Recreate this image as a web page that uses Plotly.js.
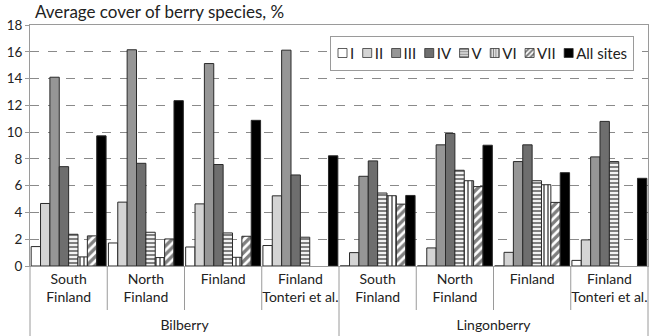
<!DOCTYPE html>
<html><head><meta charset="utf-8">
<script src="https://cdn.plot.ly/plotly-3.0.1.min.js"></script>
<style>html,body{margin:0;padding:0;background:#fff}#chart{width:650px;height:336px}</style>
</head><body><div id="chart"></div>
<script>
// ---- data ----
const species = ['Bilberry','Bilberry','Bilberry','Bilberry','Lingonberry','Lingonberry','Lingonberry','Lingonberry'];
const regions = ['South<br>Finland','North<br>Finland','Finland','Finland<br>Tonteri et al.','South<br>Finland','North<br>Finland','Finland','Finland<br>Tonteri et al.'];
const seriesNames = ['I','II','III','IV','V','VI','VII','All sites'];
const valI    = [1.45, 1.72, 1.42, 1.53, 0,    0,    0,    0.42];
const valII   = [4.67, 4.77, 4.64, 5.24, 1.0,  1.35, 1.02, 1.95];
const valIII  = [14.1, 16.15,15.12,16.12,6.7,  9.05, 7.8,  8.15];
const valIV   = [7.42, 7.67, 7.58, 6.8,  7.85, 9.9,  9.05, 10.8];
const valV    = [2.37, 2.52, 2.47, 2.15, 5.45, 7.15, 6.37, 7.8];
const valVI   = [0.68, 0.63, 0.65, null, 5.25, 6.37, 6.07, null];
const valVII  = [2.25, 2.02, 2.22, null, 4.62, 5.93, 4.75, null];
const valAll  = [9.72, 12.35,10.88,8.23, 5.27, 9.02, 6.97, 6.55];
const seriesValues = [valI, valII, valIII, valIV, valV, valVI, valVII, valAll];
const titleText = 'Average cover of berry species, %';

// ---- styles ----
const styles = [
  {color:'#ffffff'},
  {color:'#d4d4d4'},
  {color:'#969696'},
  {color:'#6e6e6e'},
  {color:'#ffffff', pattern:{shape:'-', fgcolor:'#000', bgcolor:'#fff', size:4, solidity:0.55, fillmode:'overlay'}},
  {color:'#ffffff', pattern:{shape:'|', fgcolor:'#000', bgcolor:'#fff', size:4, solidity:0.5, fillmode:'overlay'}},
  {color:'#ffffff', pattern:{shape:'/', fgcolor:'#000', bgcolor:'#fff', size:6, solidity:0.55, fillmode:'overlay'}},
  {color:'#000000'}
];

const FONT = 'Lato, "Open Sans", sans-serif';
const GRID = '#9a9a9a';
const data = seriesNames.map((name, i) => {
  const m = {color: styles[i].color, line:{color:'#2a2a2a', width:1}};
  if (styles[i].pattern) m.pattern = styles[i].pattern;
  return {type:'bar', name:name, x:[species, regions], y:seriesValues[i], marker:m, hoverinfo:'skip'};
});

// category separators below the axis (inner short, outer full height)
const shapes = [];
for (let i = 0; i <= 8; i++) {
  const outer = (i % 4 === 0);
  shapes.push({type:'line', xref:'paper', yref:'paper', x0:i/8, x1:i/8, y0:0, y1: outer ? -70/241 : -44/241, line:{color:GRID, width:1}});
}

const layout = {
  width:650, height:336,
  margin:{l:30, r:2, t:25, b:70, autoexpand:false},
  paper_bgcolor:'#fff', plot_bgcolor:'#fff',
  font:{family:FONT, size:14, color:'#222'},
  title:{text:titleText, xref:'container', x:35/650, xanchor:'left', yref:'container', y:1-12/336, yanchor:'middle', font:{family:FONT, size:17, color:'#222'}},
  barmode:'group', bargap:0.03, bargroupgap:0,
  showlegend:true,
  legend:{orientation:'h', x:(330-30)/618, xanchor:'left', y:(266-36)/241, yanchor:'top', bgcolor:'#fff', bordercolor:GRID, borderwidth:1, font:{family:FONT, size:15, color:'#222'}, itemclick:false},
  xaxis:{type:'multicategory', automargin:false, tickangle:0, showline:true, linecolor:GRID, linewidth:1, mirror:true, ticks:'', showgrid:false, showdividers:false, tickfont:{family:FONT, size:14, color:'#222'}},
  yaxis:{range:[0,18], dtick:2, tick0:0, automargin:false, showline:true, linecolor:GRID, mirror:true, ticks:'outside', ticklen:4, tickcolor:GRID, showgrid:true, gridcolor:'#8a8a8a', griddash:'dash', gridwidth:1, zeroline:false, tickfont:{family:FONT, size:13.5, color:'#222'}},
  shapes:shapes
};

const gd = document.getElementById('chart');
Plotly.newPlot(gd, data, layout, {staticPlot:true, displayModeBar:false}).then(() => { compactLegend(); shiftOuterLabels(); });

function shiftOuterLabels() {
  const txts = gd.querySelectorAll('g.xtick2 text');
  txts.forEach(t => {
    const tr = t.getAttribute('transform') || '';
    t.setAttribute('transform', tr + ' translate(0,9)');
  });
}

function compactLegend() {
  const leg = gd.querySelector('g.legend');
  if (!leg) return;
  const items = leg.querySelectorAll('g.traces');
  const H = 34;
  let x = 8;
  items.forEach(g => {
    const t = g.querySelector('text.legendtext');
    const pts = g.querySelectorAll('g.legendpoints path');
    pts.forEach(p => p.setAttribute('transform', 'translate(4.5,0) scale(0.75)'));
    if (t) {
      t.setAttribute('x', 12);
      t.querySelectorAll('tspan').forEach(s => { if (s.hasAttribute('x')) s.setAttribute('x', 12); });
    }
    const tw = t ? t.getComputedTextLength() : 10;
    g.setAttribute('transform', 'translate(' + x + ',' + (H/2) + ')');
    x += 12 + tw + 8.5;
  });
  const W = x - 3;
  const bg = leg.querySelector('rect.bg');
  if (bg) { bg.setAttribute('width', W); bg.setAttribute('height', H); }
  const clip = document.querySelectorAll('clipPath[id*="legend"] rect');
  clip.forEach(r => { r.setAttribute('width', W + 20); r.setAttribute('height', H + 10); });
  leg.setAttribute('transform', 'translate(330,36)');
  const sb = leg.querySelector('g.scrollbox');
  if (sb) sb.setAttribute('transform', 'translate(0,0)');
}
</script>
</body></html>
